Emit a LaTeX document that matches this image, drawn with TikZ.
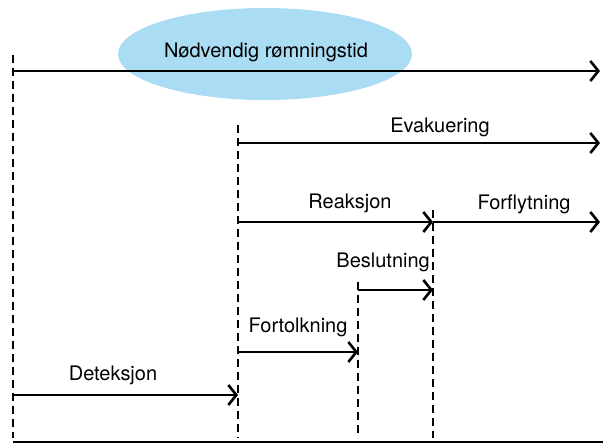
\documentclass[tikz,border=0pt]{standalone}
\usepackage{fontspec}
\setmainfont{TeX Gyre Heros}
\usepackage{xcolor}
\usetikzlibrary{arrows.meta,shapes.geometric}

\definecolor{skyblue}{RGB}{170,220,243}

\tikzset{
  phase/.style={line width=2.8pt, -{Straight Barb[length=8pt,width=20pt,line width=2.6pt]}},
  marker/.style={line width=1.8pt, dash pattern=on 8pt off 5pt},
  lbl/.style={font=\fontsize{20}{24}\selectfont, inner sep=1pt}
}

\begin{document}
\begin{tikzpicture}[x=1pt,y=-1pt]
				\useasboundingbox (0,0) rectangle (603,444);
				
				% Time points
				\coordinate (t0) at (13,71);
				\coordinate (t1) at (238,143);
				\coordinate (t2) at (358,290);
				\coordinate (t3) at (433,222);
				\coordinate (end) at (600,71);
				
				% Required escape time
				\node[ellipse, fill=skyblue, minimum width=294pt, minimum height=92pt] (cloud) at (265,54) {};
				\node[lbl] (nrt) at (266,52) {Nødvendig rømningstid};
				\draw[phase] (t0) -- (end);
				
				% Dashed markers
				\draw[marker] (13,55) -- (13,438);
				\draw[marker] (238,125) -- (238,438);
				\draw[marker] (358,282) -- (358,438);
				\draw[marker] (433,210) -- (433,438);
				
				% Evacuation
				\coordinate (evend) at (600,143);
				\draw[phase] (t1) -- (evend);
				\node[lbl] (evak) at (440,127) {Evakuering};
				
				% Reaction and movement
				\coordinate (rstart) at (238,222);
				\coordinate (fend) at (600,222);
				\draw[phase] (rstart) -- (t3);
				\draw[phase] (t3) -- (fend);
				\node[lbl] (reak) at (350,203) {Reaksjon};
				\node[lbl] (forf) at (524,204) {Forflytning};
				
				% Decision
				\coordinate (bend) at (433,290);
				\draw[phase] (t2) -- (bend);
				\node[lbl, anchor=east] (besl) at (431,262) {Beslutning};
				
				% Interpretation
				\coordinate (fstart) at (238,352);
				\coordinate (fstop) at (358,352);
				\draw[phase] (fstart) -- (fstop);
				\node[lbl] (fort) at (298,327) {Fortolkning};
				
				% Detection
				\coordinate (dstart) at (13,395);
				\draw[phase] (dstart) -- (238,395);
				\node[lbl] (dete) at (113,375) {Deteksjon};
				
				% Base line
				\draw[line width=2.8pt] (13,442) -- (603,442);
			\end{tikzpicture}
\end{document}
